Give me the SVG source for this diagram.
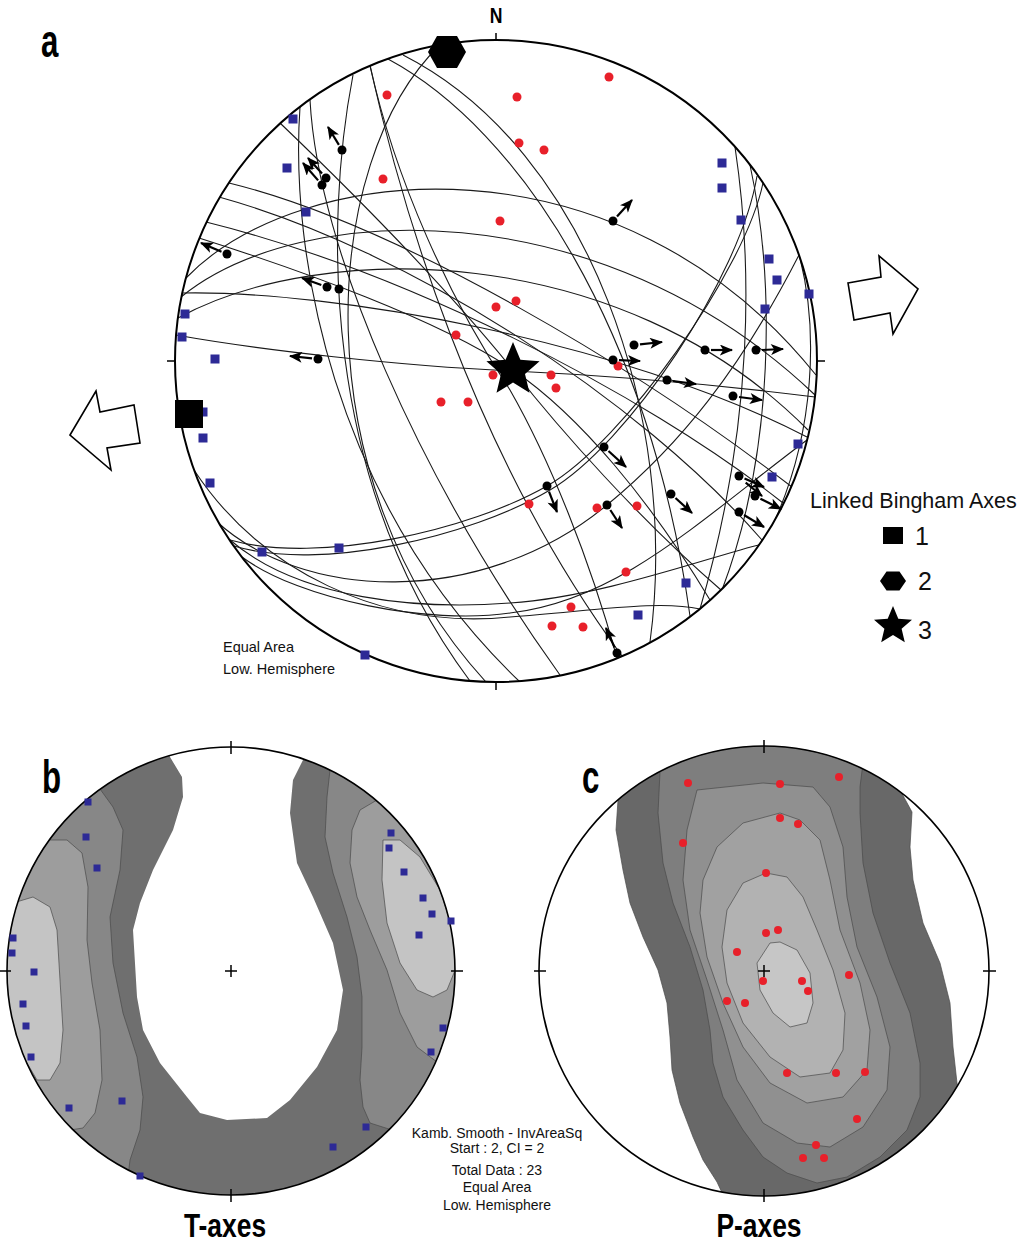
<svg xmlns="http://www.w3.org/2000/svg" width="1024" height="1243" viewBox="0 0 1024 1243">
<style>
.gc{fill:none;stroke:#1a1a1a;stroke-width:1.1}
.rim{fill:none;stroke:#000;stroke-width:2}
.tick{stroke:#000;stroke-width:1.5}
.rd{fill:#e8202a}
.bl{fill:#2d2a96}
.bk{fill:#000}
.ar{stroke:#000;stroke-width:2.2;marker-end:url(#ah)}
.lbl{font-family:"Liberation Sans",Arial,sans-serif;font-weight:bold;fill:#000}
.txt{font-family:"Liberation Sans",Arial,sans-serif;fill:#111}
.ct{stroke:#4a4a4a;stroke-width:0.7}
.hollow{fill:#fff;stroke:#000;stroke-width:1.6;stroke-linejoin:miter}
</style>
<defs>
<marker id="ah" viewBox="0 0 12 10" refX="11" refY="5" markerWidth="14" markerHeight="11" markerUnits="userSpaceOnUse" orient="auto"><path d="M0,0 L12,5 L0,10 L3,5 z" fill="#000"/></marker>
<clipPath id="ca"><circle cx="496" cy="361" r="321"/></clipPath>
<clipPath id="cb"><circle cx="231" cy="971" r="224"/></clipPath>
<clipPath id="cc"><circle cx="764" cy="971" r="225"/></clipPath>
</defs>
<rect width="1024" height="1243" fill="#fff"/>

<!-- Panel a -->
<g id="panel-a">
<text class="lbl" transform="translate(41,57) scale(0.68,1)" font-size="46">a</text>
<text class="lbl" transform="translate(496,23) scale(0.8,1)" font-size="22" text-anchor="middle">N</text>
<g id="great-circles" clip-path="url(#ca)">
<path class="gc" d="M440,45 C320,160 300,480 486,682"/>
<path class="gc" d="M353,75 C325,220 320,480 470,681"/>
<path class="gc" d="M300,107 C290,250 330,500 520,682"/>
<path class="gc" d="M310,100 C318,250 420,480 560,675"/>
<path class="gc" d="M370,66 C400,200 470,450 622,656"/>
<path class="gc" d="M403,55 C590,150 680,420 650,642"/>
<path class="gc" d="M388,59 C520,130 650,330 690,616"/>
<path class="gc" d="M735,147 C752,260 755,420 700,609"/>
<path class="gc" d="M750,165 C775,280 775,450 722,590"/>
<path class="gc" d="M800,258 C818,330 815,430 775,520"/>
<path class="gc" d="M230,540 C320,565 470,530 547,486 C624,442 745,270 763,183"/>
<path class="gc" d="M234,546 C320,572 470,537 550,490 C627,445 740,278 757,176"/>
<path class="gc" d="M186,278 C300,160 620,130 816,375"/>
<path class="gc" d="M181,297 C300,200 600,190 815,395"/>
<path class="gc" d="M178,318 C320,240 620,240 808,430"/>
<path class="gc" d="M229,183 C400,225 640,370 792,487"/>
<path class="gc" d="M219,197 C410,250 640,400 762,540"/>
<path class="gc" d="M206,222 C400,270 640,390 783,503"/>
<path class="gc" d="M199,238 C300,270 440,320 513,370 C580,416 650,500 710,600"/>
<path class="gc" d="M176,335 C260,350 400,366 513,371 C620,376 720,385 815,397"/>
<path class="gc" d="M182,293 C330,290 620,340 807,437"/>
<path class="gc" d="M370,65 C395,180 450,300 510,390 C550,460 590,560 617,658"/>
<path class="gc" d="M215,520 C300,600 480,610 607,505 C680,445 740,370 799,255"/>
<path class="gc" d="M194,470 C260,570 380,630 510,617 C600,610 660,600 700,609"/>
<path class="gc" d="M230,540 C300,600 420,610 510,603 C600,597 700,560 762,544"/>
<path class="gc" d="M242,557 C300,600 430,625 510,613 C620,600 700,520 807,440"/>
<path class="gc" d="M280,123 C350,190 440,280 513,370 C560,430 640,520 721,590"/>
</g>
<circle class="rim" cx="496" cy="361" r="321"/>
<line class="tick" x1="496" y1="33" x2="496" y2="40"/>
<line class="tick" x1="167" y1="361" x2="175" y2="361"/>
<line class="tick" x1="817" y1="361" x2="825" y2="361"/>
<line class="tick" x1="496" y1="682" x2="496" y2="690"/>

<g id="p-axes-a">
<circle class="rd" cx="609" cy="77" r="4.5"/><circle class="rd" cx="517" cy="97" r="4.5"/><circle class="rd" cx="387" cy="95" r="4.5"/>
<circle class="rd" cx="519" cy="143" r="4.5"/><circle class="rd" cx="544" cy="150" r="4.5"/><circle class="rd" cx="383" cy="179" r="4.5"/>
<circle class="rd" cx="500" cy="221" r="4.5"/><circle class="rd" cx="516" cy="301" r="4.5"/><circle class="rd" cx="496" cy="307" r="4.5"/>
<circle class="rd" cx="456" cy="335" r="4.5"/><circle class="rd" cx="618" cy="366" r="4.5"/><circle class="rd" cx="551" cy="375" r="4.5"/>
<circle class="rd" cx="556" cy="388" r="4.5"/><circle class="rd" cx="493" cy="375" r="4.5"/><circle class="rd" cx="441" cy="402" r="4.5"/>
<circle class="rd" cx="468" cy="402" r="4.5"/><circle class="rd" cx="529" cy="504" r="4.5"/><circle class="rd" cx="597" cy="508" r="4.5"/>
<circle class="rd" cx="637" cy="506" r="4.5"/><circle class="rd" cx="626" cy="572" r="4.5"/><circle class="rd" cx="571" cy="607" r="4.5"/>
<circle class="rd" cx="552" cy="626" r="4.5"/><circle class="rd" cx="583" cy="627" r="4.5"/>
</g>
<g id="t-axes-a">
<rect class="bl" x="288.5" y="114.5" width="9" height="9"/><rect class="bl" x="282.5" y="163.5" width="9" height="9"/><rect class="bl" x="301.5" y="207.5" width="9" height="9"/>
<rect class="bl" x="180.5" y="309.5" width="9" height="9"/><rect class="bl" x="177.5" y="332.5" width="9" height="9"/><rect class="bl" x="210.5" y="354.5" width="9" height="9"/>
<rect class="bl" x="198.5" y="407.5" width="9" height="9"/><rect class="bl" x="198.5" y="433.5" width="9" height="9"/><rect class="bl" x="205.5" y="478.5" width="9" height="9"/>
<rect class="bl" x="257.5" y="547.5" width="9" height="9"/><rect class="bl" x="334.5" y="543.5" width="9" height="9"/><rect class="bl" x="360.5" y="650.5" width="9" height="9"/>
<rect class="bl" x="717.5" y="158.5" width="9" height="9"/><rect class="bl" x="717.5" y="183.5" width="9" height="9"/><rect class="bl" x="736.5" y="215.5" width="9" height="9"/>
<rect class="bl" x="764.5" y="254.5" width="9" height="9"/><rect class="bl" x="772.5" y="275.5" width="9" height="9"/><rect class="bl" x="804.5" y="289.5" width="9" height="9"/>
<rect class="bl" x="760.5" y="304.5" width="9" height="9"/><rect class="bl" x="793.5" y="439.5" width="9" height="9"/><rect class="bl" x="767.5" y="472.5" width="9" height="9"/>
<rect class="bl" x="681.5" y="578.5" width="9" height="9"/><rect class="bl" x="633.5" y="610.5" width="9" height="9"/>
</g>
<g id="slip-linears">
<line class="ar" x1="338.9" y1="144.9" x2="328" y2="127"/><circle class="bk" cx="342" cy="150" r="4.5"/>
<line class="ar" x1="318.1" y1="180.4" x2="303" y2="163"/><circle class="bk" cx="322" cy="185" r="4.5"/>
<line class="ar" x1="322" y1="173.5" x2="308" y2="158"/><circle class="bk" cx="326" cy="178" r="4.5"/>
<line class="ar" x1="221.5" y1="251.7" x2="201" y2="243"/><circle class="bk" cx="227" cy="254" r="4.5"/>
<line class="ar" x1="321.3" y1="285" x2="302" y2="278"/><circle class="bk" cx="327" cy="287" r="4.5"/><circle class="bk" cx="339" cy="289" r="4.5"/>
<line class="ar" x1="312" y1="358.3" x2="290" y2="356"/><circle class="bk" cx="318" cy="359" r="4.5"/>
<line class="ar" x1="617" y1="216.5" x2="632" y2="200"/><circle class="bk" cx="613" cy="221" r="4.5"/>
<line class="ar" x1="640" y1="344.3" x2="662" y2="342"/><circle class="bk" cx="634" cy="345" r="4.5"/>
<line class="ar" x1="711" y1="350" x2="732" y2="350"/><circle class="bk" cx="705" cy="350" r="4.5"/>
<line class="ar" x1="762" y1="350" x2="783" y2="349"/><circle class="bk" cx="756" cy="350" r="4.5"/>
<line class="ar" x1="619" y1="360.2" x2="640" y2="361"/><circle class="bk" cx="613" cy="360" r="4.5"/>
<line class="ar" x1="673" y1="381" x2="696" y2="384"/><circle class="bk" cx="667" cy="380" r="4.5"/>
<line class="ar" x1="739" y1="397" x2="762" y2="400"/><circle class="bk" cx="733" cy="396" r="4.5"/>
<line class="ar" x1="608.5" y1="451" x2="626" y2="467"/><circle class="bk" cx="604" cy="447" r="4.5"/>
<line class="ar" x1="549" y1="491.6" x2="557" y2="512"/><circle class="bk" cx="547" cy="486" r="4.5"/>
<line class="ar" x1="610.3" y1="510" x2="622" y2="528"/><circle class="bk" cx="607" cy="505" r="4.5"/>
<line class="ar" x1="675.5" y1="498" x2="692" y2="513"/><circle class="bk" cx="671" cy="494" r="4.5"/>
<line class="ar" x1="744.5" y1="478.4" x2="764" y2="487"/>
<line class="ar" x1="745.7" y1="482.7" x2="762" y2="496"/><circle class="bk" cx="739" cy="476" r="4.5"/>
<line class="ar" x1="760.4" y1="498.7" x2="781" y2="509"/><circle class="bk" cx="755" cy="496" r="4.5"/>
<line class="ar" x1="744" y1="515" x2="764" y2="527"/><circle class="bk" cx="739" cy="512" r="4.5"/>
<line class="ar" x1="614.6" y1="647.5" x2="606" y2="628"/><circle class="bk" cx="617" cy="653" r="4.5"/>
</g>
<g id="bingham-axes">
<rect class="bk" x="175" y="400" width="28" height="28"/>
<polygon class="bk" points="428,52 437,36 457,36 466,52 457,68 437,68"/>
<polygon class="bk" points="513,342 520.4,359.8 539.6,361.3 525,373.9 529.5,392.7 513,382.6 496.5,392.7 501,373.9 486.4,361.3 505.6,359.8"/>
</g>
<polygon id="arrow-west" class="hollow" points="70,435 96,391 100,412 134,405 140,443 107,448 111,470"/>
<polygon id="arrow-east" class="hollow" points="848,283 881,277 879,256 918,289 893,334 890,313 854,320"/>
<text class="txt" x="223" y="652" font-size="14.5">Equal Area</text>
<text class="txt" x="223" y="674" font-size="14.5">Low. Hemisphere</text>
</g>

<g id="legend">
<text class="txt" x="810" y="508" font-size="21.5">Linked Bingham Axes</text>
<rect class="bk" x="883" y="527" width="20" height="17"/>
<text class="txt" x="915" y="545" font-size="25">1</text>
<polygon class="bk" points="880,581 886.5,571.5 899.5,571.5 906,581 899.5,590.5 886.5,590.5"/>
<text class="txt" x="918" y="590" font-size="25">2</text>
<polygon class="bk" points="893,606 898.3,618.7 912,619.8 901.6,628.8 904.8,642.2 893,635 881.2,642.2 884.4,628.8 874,619.8 887.7,618.7"/>
<text class="txt" x="918" y="639" font-size="25">3</text>
</g>

<!-- Panel b -->
<g id="panel-b">
<g clip-path="url(#cb)">
<circle cx="231" cy="971" r="224" fill="#6f6f6f"/>
<polygon fill="#fff" points="165,740 170,757 182,777 183,797 173,830 153,870 140,903 133,930 137,997 143,1030 160,1063 187,1097 200,1113 227,1120 267,1118 290,1100 317,1067 337,1030 343,990 333,943 313,897 297,863 290,813 293,780 303,760 308,740"/>
<polygon class="ct" fill="#878787" points="95,760 100,789 113,807 123,830 120,870 110,917 113,963 123,1013 137,1057 143,1097 140,1130 130,1160 125,1200 0,1200 0,740"/>
<polygon class="ct" fill="#9d9d9d" points="40,830 50,840 67,840 82,853 88,887 87,940 92,983 100,1030 102,1080 95,1113 83,1128 70,1130 60,1140 0,1150 0,830"/>
<polygon class="ct" fill="#c4c4c4" points="0,900 13,903 33,897 50,907 57,930 60,980 63,1030 60,1063 50,1080 37,1080 27,1063 13,1047 0,1040"/>
<polygon class="ct" fill="#878787" points="335,740 330,770 327,797 325,837 333,873 347,917 357,957 362,997 362,1047 360,1080 363,1107 370,1123 392,1130 470,1130 470,740"/>
<polygon class="ct" fill="#9d9d9d" points="385,780 377,800 360,810 352,830 350,863 357,897 370,930 387,970 400,1013 417,1047 437,1062 470,1062 470,780"/>
<polygon class="ct" fill="#c4c4c4" points="383,840 400,840 420,857 440,890 453,930 458,963 447,990 433,997 417,990 400,963 387,923 382,880"/>
</g>
<circle cx="231" cy="971" r="224" fill="none" stroke="#000" stroke-width="1.6"/>
<line class="tick" x1="231" y1="741" x2="231" y2="754"/>
<line class="tick" x1="0" y1="971" x2="11" y2="971"/>
<line class="tick" x1="451" y1="971" x2="463" y2="971"/>
<line class="tick" x1="231" y1="1189" x2="231" y2="1202"/>
<line class="tick" x1="225" y1="971" x2="237" y2="971"/>
<line class="tick" x1="231" y1="965" x2="231" y2="977"/>
<g id="t-axes-b">
<rect class="bl" x="84.5" y="798.5" width="7" height="7"/><rect class="bl" x="82.5" y="833.5" width="7" height="7"/><rect class="bl" x="93.5" y="864.5" width="7" height="7"/>
<rect class="bl" x="9.5" y="934.5" width="7" height="7"/><rect class="bl" x="8.5" y="949.5" width="7" height="7"/><rect class="bl" x="30.5" y="968.5" width="7" height="7"/>
<rect class="bl" x="19.5" y="1000.5" width="7" height="7"/><rect class="bl" x="22.5" y="1022.5" width="7" height="7"/><rect class="bl" x="27.5" y="1053.5" width="7" height="7"/>
<rect class="bl" x="65.5" y="1104.5" width="7" height="7"/><rect class="bl" x="118.5" y="1097.5" width="7" height="7"/><rect class="bl" x="136.5" y="1172.5" width="7" height="7"/>
<rect class="bl" x="387.5" y="829.5" width="7" height="7"/><rect class="bl" x="385.5" y="844.5" width="7" height="7"/><rect class="bl" x="400.5" y="868.5" width="7" height="7"/>
<rect class="bl" x="419.5" y="894.5" width="7" height="7"/><rect class="bl" x="428.5" y="910.5" width="7" height="7"/><rect class="bl" x="447.5" y="917.5" width="7" height="7"/>
<rect class="bl" x="415.5" y="931.5" width="7" height="7"/><rect class="bl" x="439.5" y="1024.5" width="7" height="7"/><rect class="bl" x="427.5" y="1048.5" width="7" height="7"/>
<rect class="bl" x="362.5" y="1123.5" width="7" height="7"/><rect class="bl" x="329.5" y="1143.5" width="7" height="7"/>
</g>
<text class="lbl" transform="translate(42,793) scale(0.68,1)" font-size="46">b</text>
<text class="lbl" transform="translate(225,1237) scale(0.8,1)" font-size="33" text-anchor="middle">T-axes</text>
</g>

<!-- Panel c -->
<g id="panel-c">
<g clip-path="url(#cc)">
<polygon class="ct" fill="#686868" points="612,790 618,800 616,830 623,870 630,903 643,937 658,970 667,1003 670,1037 672,1070 680,1103 693,1137 703,1160 717,1182 730,1210 800,1215 900,1180 962,1100 957,1083 953,1047 950,1003 940,963 923,923 913,880 910,847 912,812 900,790 880,740 764,735 640,760"/>
<polygon class="ct" fill="#7e7e7e" points="660,760 660,772 658,813 663,863 673,903 690,947 703,990 710,1030 713,1063 723,1097 743,1130 763,1157 787,1173 817,1183 847,1177 880,1157 907,1130 920,1097 920,1063 910,1013 890,963 873,913 863,863 860,813 860,787 863,763 764,740"/>
<polygon class="ct" fill="#909090" points="697,790 687,830 683,880 690,930 707,980 723,1030 737,1080 763,1123 797,1143 830,1147 863,1127 887,1090 890,1047 877,997 857,947 847,897 843,847 830,807 813,787 763,783"/>
<polygon class="ct" fill="#a1a1a1" points="780,813 743,823 717,847 703,880 700,913 707,957 723,1003 743,1047 770,1083 807,1103 843,1097 867,1070 870,1030 860,983 840,930 830,880 820,840 800,820"/>
<polygon class="ct" fill="#b2b2b2" points="766,873 743,883 727,910 722,947 727,983 743,1023 770,1057 800,1077 830,1073 843,1050 845,1013 833,970 817,930 803,897 787,877"/>
<polygon class="ct" fill="#c6c6c6" points="770,943 757,963 760,990 773,1013 790,1027 807,1023 813,1003 810,973 797,950 780,942"/>
</g>
<circle cx="764" cy="971" r="225" fill="none" stroke="#000" stroke-width="1.6"/>
<line class="tick" x1="764" y1="740" x2="764" y2="753"/>
<line class="tick" x1="534" y1="971" x2="546" y2="971"/>
<line class="tick" x1="983" y1="971" x2="996" y2="971"/>
<line class="tick" x1="764" y1="1189" x2="764" y2="1202"/>
<g id="p-axes-c">
<circle class="rd" cx="688" cy="783" r="4"/><circle class="rd" cx="780" cy="784" r="4"/><circle class="rd" cx="839" cy="777" r="4"/>
<circle class="rd" cx="780" cy="818" r="4"/><circle class="rd" cx="798" cy="824" r="4"/><circle class="rd" cx="683" cy="843" r="4"/>
<circle class="rd" cx="766" cy="873" r="4"/><circle class="rd" cx="766" cy="933" r="4"/><circle class="rd" cx="778" cy="930" r="4"/>
<circle class="rd" cx="737" cy="952" r="4"/><circle class="rd" cx="763" cy="981" r="4"/><circle class="rd" cx="802" cy="981" r="4"/>
<circle class="rd" cx="808" cy="991" r="4"/><circle class="rd" cx="849" cy="975" r="4"/><circle class="rd" cx="727" cy="1001" r="4"/>
<circle class="rd" cx="745" cy="1003" r="4"/><circle class="rd" cx="787" cy="1073" r="4"/><circle class="rd" cx="836" cy="1073" r="4"/>
<circle class="rd" cx="865" cy="1072" r="4"/><circle class="rd" cx="857" cy="1119" r="4"/><circle class="rd" cx="816" cy="1145" r="4"/>
<circle class="rd" cx="803" cy="1158" r="4"/><circle class="rd" cx="824" cy="1158" r="4"/>
</g>
<line class="tick" x1="758" y1="971" x2="770" y2="971"/>
<line class="tick" x1="764" y1="965" x2="764" y2="977"/>
<text class="lbl" transform="translate(582,793) scale(0.68,1)" font-size="46">c</text>
<text class="lbl" transform="translate(759,1237) scale(0.8,1)" font-size="33" text-anchor="middle">P-axes</text>
</g>

<g id="stats" class="txt" font-size="14" text-anchor="middle">
<text x="497" y="1138">Kamb. Smooth - InvAreaSq</text>
<text x="497" y="1153">Start : 2, CI = 2</text>
<text x="497" y="1175">Total Data : 23</text>
<text x="497" y="1192">Equal Area</text>
<text x="497" y="1210">Low. Hemisphere</text>
</g>
</svg>
